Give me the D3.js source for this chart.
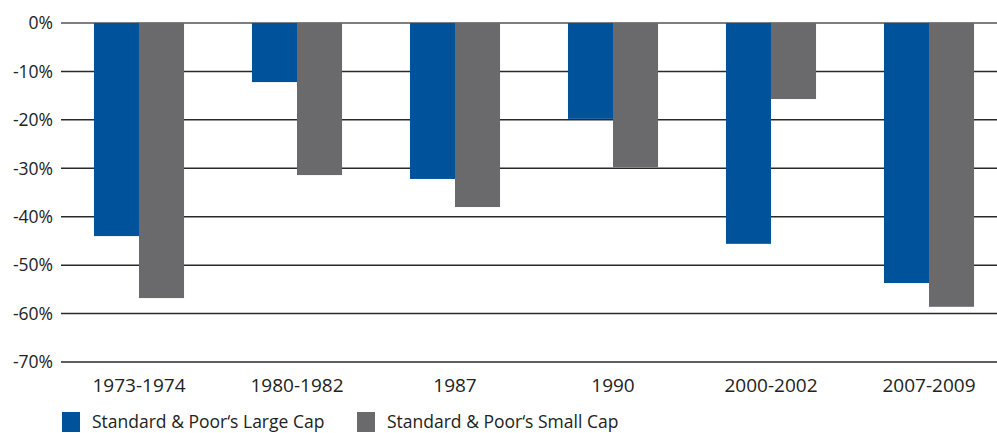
<!DOCTYPE html>
<html lang="en">
<head>
<meta charset="utf-8">
<style>
  body { margin: 0; background: #fff; }
  text { font-family: "Open Sans", sans-serif; fill: #222; }
</style>
<script src="https://cdn.jsdelivr.net/npm/d3@7"></script>
</head>
<body>
<script>
// data
var periods = ["1973-1974", "1980-1982", "1987", "1990", "2000-2002", "2007-2009"];
var seriesNames = ["Standard & Poor\u2018s Large Cap", "Standard & Poor\u2018s Small Cap"];
var largeCap = [-44.0, -12.2, -32.2, -19.8, -45.6, -53.7];
var smallCap = [-56.8, -31.4, -38.0, -29.8, -15.7, -58.6];
var yTicks = [0, -10, -20, -30, -40, -50, -60, -70];
var colors = ["#00529b", "#6a6a6c"];

var width = 997, height = 433;

var svg = d3.select("body").append("svg")
    .attr("width", width)
    .attr("height", height);

var y = d3.scaleLinear()
    .domain([0, -70])
    .range([23, 362]);

var x = d3.scaleBand()
    .domain(periods)
    .range([60, 1008])
    .paddingInner(0.43)
    .paddingOuter(0.215);

var x1 = d3.scaleBand()
    .domain([0, 1])
    .range([0, x.bandwidth()]);

// gridlines
svg.append("g").selectAll("line")
    .data(yTicks)
    .enter().append("line")
    .attr("x1", 61)
    .attr("x2", width)
    .attr("y1", d => y(d))
    .attr("y2", d => y(d))
    .attr("stroke", d => d == 0 ? "#555" : "#2a2a2a")
    .attr("stroke-width", 1.5);

// y labels
svg.append("g").selectAll("text")
    .data(yTicks)
    .enter().append("text")
    .attr("x", 53)
    .attr("y", d => y(d))
    .attr("dy", "0.36em")
    .attr("text-anchor", "end")
    .style("font-size", "17.5px")
    .text(d => d + "%");

// bars
var rows = periods.map((p, i) => ({ period: p, vals: [largeCap[i], smallCap[i]] }));

var groups = svg.append("g").selectAll("g")
    .data(rows)
    .enter().append("g")
    .attr("transform", d => "translate(" + x(d.period) + ",0)");

groups.selectAll("rect")
    .data(d => d.vals)
    .enter().append("rect")
    .attr("x", (d, i) => x1(i))
    .attr("width", x1.bandwidth())
    .attr("y", y(0))
    .attr("height", d => y(d) - y(0))
    .attr("fill", (d, i) => colors[i]);

// category labels
svg.append("g").selectAll("text")
    .data(periods)
    .enter().append("text")
    .attr("x", d => x(d) + x.bandwidth() / 2)
    .attr("y", 392)
    .attr("text-anchor", "middle")
    .style("font-size", "19px")
    .text(d => d);

// legend
var legendX = [62, 357];
var legend = svg.append("g").selectAll("g")
    .data(seriesNames)
    .enter().append("g")
    .attr("transform", (d, i) => "translate(" + legendX[i] + ",412)");

legend.append("rect")
    .attr("width", 18)
    .attr("height", 20)
    .attr("fill", (d, i) => colors[i]);

legend.append("text")
    .attr("x", 30)
    .attr("y", 16)
    .style("font-size", "17.5px")
    .text(d => d);
</script>
</body>
</html>
